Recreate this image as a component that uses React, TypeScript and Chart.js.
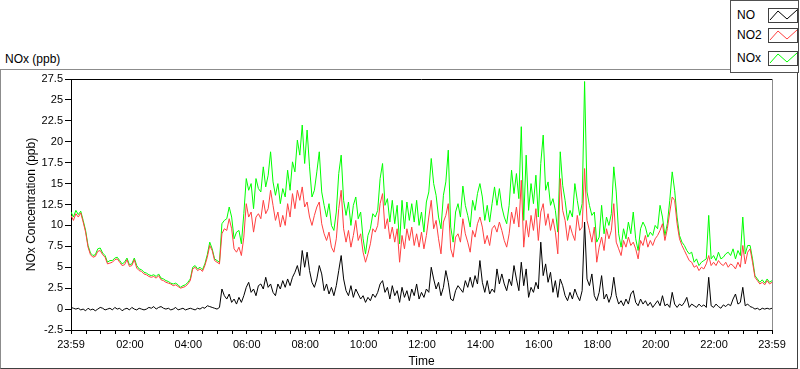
import React, { useEffect, useRef } from "react";
import { Chart, registerables } from "chart.js";

Chart.register(...registerables);

// minutes after 23:59 for each sample (5-minute spacing)
const STEP_MINUTES = 5;

const NO = [
  0.2, 0.1, 0.0, 0.1, -0.1, 0.0, -0.2, 0.1, -0.1, 0.0,
  -0.2, 0.0, 0.2, 0.1, -0.1, 0.0, 0.1, -0.1, 0.2, 0.0,
  0.1, -0.2, 0.0, 0.1, -0.1, 0.2, 0.0, -0.1, 0.1, 0.0,
  -0.1, 0.0, 0.2, 0.1, 0.3, 0.0, 0.2, 0.3, 0.1, 0.0,
  0.1, -0.1, 0.0, 0.2, -0.1, 0.0, 0.1, -0.1, 0.0, 0.1,
  0.0, -0.1, 0.1, 0.0, 0.2, 0.1, 0.4, 0.3, 0.2, 0.1,
  0.0, 0.2, 2.4, 1.6, 1.2, 1.8, 0.8, 1.2, 0.6, 1.4,
  0.8, 1.6, 2.6, 3.2, 2.0, 2.4, 1.6, 2.8, 3.0, 2.4,
  3.8, 2.6, 3.0, 2.0, 1.6, 3.0, 2.4, 3.4, 2.6, 3.6,
  2.8, 3.8, 4.4, 5.2, 4.0, 7.0, 5.0, 6.8, 4.6, 3.2,
  2.6, 3.6, 5.2, 4.2, 2.2, 3.0, 1.8, 2.6, 1.6, 2.8,
  4.6, 6.4, 3.6, 2.2, 1.6, 2.8, 1.4, 2.4, 1.8, 1.2,
  1.6, 0.8, 1.4, 1.0, 1.8, 1.4, 2.0, 3.0, 3.4, 2.0,
  2.6, 1.2, 2.8, 1.6, 2.2, 0.8, 2.6, 1.4, 2.2, 1.0,
  2.4, 1.6, 3.0, 1.2, 2.0, 1.4, 2.4, 2.0, 5.0, 3.6,
  2.4, 3.2, 1.6, 2.6, 4.6, 3.2, 1.2, 1.0, 2.2, 2.8,
  2.4, 2.0, 3.4, 2.6, 3.8, 2.6, 4.0, 3.0, 5.8, 3.2,
  2.0, 3.4, 1.8, 2.4, 2.0, 4.8, 3.0, 4.2, 3.0, 2.2,
  3.6, 2.8, 5.2, 3.6, 2.2, 5.6, 2.8, 4.8, 1.4, 2.6,
  2.0, 3.2, 2.4, 8.0, 4.0, 5.4, 3.2, 4.4, 2.0, 3.4,
  1.4, 3.6, 2.8, 1.6, 1.0, 2.0, 1.2, 2.4, 1.6, 1.0,
  2.2, 10.4, 3.6, 2.8, 4.2, 1.6, 1.0, 2.0, 4.0, 1.2,
  1.8, 0.8, 1.6, 3.8, 1.6, 0.6, 1.0, 0.4, 1.2, 0.6,
  1.8, 2.2, 0.8, 0.4, 1.2, 0.6, 1.0, 0.4, 0.8, 0.2,
  0.6, 1.0, 0.4, 1.6, 0.4, 0.6, 0.2, 2.0, 0.6, 0.2,
  0.6, 0.4, 0.8, 1.4, 0.2, 0.6, 0.4, 0.2, 0.6, 0.3,
  0.5, 0.2, 3.8, 0.4, 0.2, 0.6, 0.3, 0.1, 0.5, 0.3,
  0.6, 0.4, 1.2, 1.8, 0.6, 0.8, 2.6, 0.4, 0.6, 0.3,
  0.2, 0.0, 0.1, -0.1, 0.1, 0.0, 0.1, 0.0, 0.1,
];

const NO2 = [
  11.2, 10.6, 11.4, 11.0, 11.5, 10.4, 9.2, 7.4, 6.5, 6.2,
  6.3, 6.9, 7.0, 6.5, 6.2, 5.4, 5.5, 5.6, 5.9, 6.0,
  5.6, 5.2, 5.3, 5.9, 5.1, 5.2, 5.9, 4.9, 4.6, 4.5,
  4.2, 4.1, 3.9, 3.8, 3.9, 3.7, 4.0, 3.5, 3.4, 3.2,
  3.1, 3.0, 2.8, 2.9, 2.7, 2.5, 2.6, 2.7, 3.0, 3.4,
  4.8, 5.0, 4.6, 4.8, 4.5, 5.2, 6.2, 7.6, 7.0, 5.8,
  5.6, 5.4, 9.0, 9.6, 9.4, 10.8, 9.6, 7.2, 6.8, 7.4,
  6.4, 8.6, 12.6, 11.0, 11.6, 9.2, 11.0, 11.4, 10.8, 13.0,
  11.4, 12.0, 14.2, 12.4, 10.6, 11.6, 9.8, 11.2, 10.0, 12.6,
  11.0, 13.8, 12.0, 14.2, 13.0, 14.6, 12.2, 12.8, 11.0, 10.0,
  11.2, 12.2, 12.8, 10.2, 9.0, 8.2, 9.2, 7.4, 6.8, 8.4,
  12.0, 14.2, 9.6, 8.0, 9.4, 7.4, 8.8, 10.6, 8.2, 9.0,
  6.8, 5.6, 6.6, 7.8, 9.6, 9.2, 10.0, 12.6, 13.8, 9.6,
  10.8, 8.4, 9.8, 8.0, 9.6, 5.6, 8.8, 7.2, 9.6, 8.2,
  9.8, 7.6, 9.0, 7.4, 9.2, 7.2, 8.8, 11.0, 13.0, 9.6,
  10.6, 8.4, 6.6, 10.4, 11.2, 12.6, 7.2, 6.2, 8.6, 9.0,
  8.0, 10.8, 9.0, 8.0, 6.8, 9.4, 8.6, 10.2, 11.0, 9.8,
  7.8, 8.8, 7.6, 9.6, 10.0, 9.2, 10.4, 9.4, 8.2, 7.4,
  9.0, 11.6, 10.2, 12.2, 9.8, 15.4, 7.4, 10.6, 8.6, 11.2,
  9.4, 12.0, 8.2, 11.6, 12.6, 10.0, 11.4, 9.4, 10.8, 9.2,
  6.6, 15.6, 11.8, 10.6, 8.2, 10.0, 9.0, 8.2, 11.2, 9.4,
  9.8, 16.8, 10.6, 9.4, 8.0, 9.8, 5.6, 7.4, 8.6, 7.0,
  9.6, 8.4, 9.4, 12.6, 8.0, 7.2, 6.4, 8.2, 7.4, 8.6,
  7.6, 8.0, 7.2, 6.0, 8.2, 7.6, 8.8, 7.4, 8.2, 7.6,
  8.4, 8.8, 9.4, 10.2, 8.2, 9.6, 11.6, 13.4, 13.0, 10.2,
  8.4, 7.6, 7.0, 6.4, 5.8, 5.6, 5.0, 5.2, 4.6, 5.0,
  4.8, 5.4, 6.4, 5.2, 5.6, 5.2, 5.8, 5.4, 5.2, 5.6,
  5.0, 5.4, 5.2, 4.8, 5.6, 5.0, 7.6, 5.4, 6.8, 7.2,
  5.6, 3.8, 3.4, 3.0, 3.2, 2.9, 3.4, 3.0, 3.2,
];

const NOX = [
  11.6, 11.0, 11.8, 11.3, 11.7, 10.6, 9.4, 7.6, 6.7, 6.4,
  6.5, 7.2, 7.3, 6.7, 6.4, 5.6, 5.8, 5.8, 6.1, 6.2,
  5.8, 5.4, 5.6, 6.1, 5.3, 5.4, 6.1, 5.2, 4.8, 4.7,
  4.4, 4.3, 4.1, 4.0, 4.1, 3.9, 4.2, 3.7, 3.6, 3.4,
  3.3, 3.1, 3.0, 3.1, 2.9, 2.6, 2.8, 2.9, 3.2, 3.6,
  5.0, 5.2, 4.8, 5.0, 4.7, 5.4, 6.5, 8.0, 7.2, 6.0,
  5.8, 5.6, 10.2, 10.6, 10.8, 12.2, 11.0, 8.4, 9.2, 9.4,
  7.8, 11.4, 15.6, 14.2, 15.0, 12.0, 15.6, 14.4, 14.0, 17.0,
  14.6, 16.0, 18.8, 15.2, 13.6, 15.0, 12.6, 14.4, 13.4, 16.6,
  14.2, 17.6, 16.4, 20.2, 18.4, 22.0, 17.4, 21.4, 17.0, 13.4,
  14.2, 16.4, 18.8, 14.0, 12.4, 11.0, 12.6, 10.0, 9.4, 11.6,
  16.2, 18.4, 13.0, 11.2, 12.8, 10.0, 12.4, 13.4, 10.8, 11.6,
  8.4, 6.6, 8.8, 9.6, 11.4, 11.0, 11.8, 15.6, 17.4, 12.4,
  13.2, 10.4, 13.0, 10.2, 12.4, 7.8, 13.0, 9.6, 12.8, 10.6,
  12.6, 10.4, 13.0, 10.0, 11.6, 9.2, 12.8, 14.0, 18.0, 15.0,
  13.6, 11.0, 9.6, 13.6, 15.2, 19.0, 9.8, 8.0, 11.6, 12.6,
  11.0, 14.7, 12.4, 11.2, 9.8, 13.0, 11.8, 13.8, 15.0, 13.4,
  10.6, 12.4, 10.4, 12.6, 14.6, 12.4, 14.4, 12.2, 11.0, 10.2,
  12.4, 16.6, 13.8, 16.2, 13.2, 21.8, 10.6, 18.4, 11.8, 15.0,
  12.6, 16.0, 11.0, 17.4, 20.8, 14.2, 15.2, 12.4, 13.2, 11.8,
  9.2, 18.8, 14.8, 13.0, 10.6, 11.8, 11.0, 15.0, 13.0, 11.2,
  12.6, 27.2, 14.0, 12.4, 11.2, 11.6, 8.0, 8.6, 12.4, 9.0,
  11.0, 10.0, 11.4, 17.0, 14.0, 9.0, 7.4, 9.6, 8.4, 10.4,
  9.0, 11.6, 8.4, 7.0, 9.6, 10.4, 9.8, 8.6, 9.2, 8.8,
  10.0, 9.6, 12.4, 11.0, 8.8, 10.2, 13.0, 16.4, 14.2, 11.0,
  8.8, 8.0, 7.6, 7.0, 6.6, 6.8, 5.6, 6.0, 5.2, 5.6,
  5.8, 6.0, 11.2, 6.0, 6.4, 5.8, 6.8, 6.0, 6.2, 6.6,
  6.8, 6.4, 7.2, 6.0, 7.0, 6.4, 11.0, 6.6, 7.6, 7.6,
  6.0, 4.0, 3.6, 3.2, 3.5, 3.1, 3.6, 3.2, 3.4,
];

// x-axis: minutes after 23:59
const X_MAJOR_VALUES = [0, 121, 241, 361, 481, 601, 721, 841, 961, 1081, 1201, 1321, 1440];
const X_MAJOR_LABELS = ["23:59", "02:00", "04:00", "06:00", "08:00", "10:00", "12:00", "14:00", "16:00", "18:00", "20:00", "22:00", "23:59"];
const X_MINOR_STEP = 30;

const Y_MIN = -2.5;
const Y_MAX = 27.5;
const Y_STEP = 2.5;

const SERIES_NAMES = ["NO", "NO2", "NOx"];
const SERIES_COLORS = ["#000000", "#ff4040", "#00ff00"];

const FONT = "'Liberation Sans', Arial, sans-serif";

function buildXTicks() {
  const vals = new Set<number>(X_MAJOR_VALUES);
  for (let v = 1 + X_MINOR_STEP; v < 1440; v += X_MINOR_STEP) vals.add(v);
  return Array.from(vals).sort((a, b) => a - b);
}

const framePlugin = {
  id: "plotFrame",
  afterDraw(chart: any) {
    const { ctx, chartArea } = chart;
    const { left, right, top, bottom } = chartArea;
    ctx.save();
    ctx.lineWidth = 1;
    ctx.strokeStyle = "#000";
    ctx.beginPath();
    ctx.moveTo(left, Math.round(top) + 0.5);
    ctx.lineTo(right, Math.round(top) + 0.5);
    ctx.stroke();
    ctx.strokeStyle = "#8c8c8c";
    ctx.beginPath();
    ctx.moveTo(Math.round(right) + 0.5, top);
    ctx.lineTo(Math.round(right) + 0.5, bottom);
    ctx.stroke();
    ctx.restore();
  },
};

function LegendIcon({ color }: { color: string }) {
  return (
    <svg width="29" height="13" style={{ display: "block" }}>
      <polyline points="1,11 9,2 18,10 28,1" fill="none" stroke={color} strokeWidth="1" />
    </svg>
  );
}

export default function App() {
  const canvasRef = useRef<HTMLCanvasElement | null>(null);

  useEffect(() => {
    if (!canvasRef.current) return;
    const times = NO.map((_, i) => i * STEP_MINUTES);
    const seriesValues = [NO, NO2, NOX];
    const xTicks = buildXTicks();

    const chart = new Chart(canvasRef.current, {
      type: "line",
      data: {
        datasets: seriesValues.map((vals, k) => ({
          label: SERIES_NAMES[k],
          data: vals.map((v, i) => ({ x: times[i], y: v })),
          borderColor: SERIES_COLORS[k],
          backgroundColor: SERIES_COLORS[k],
          borderWidth: 1,
          pointRadius: 0,
          tension: 0,
          fill: false,
        })),
      },
      options: {
        animation: false,
        responsive: false,
        devicePixelRatio: 1,
        layout: { padding: { left: 0, right: 28, top: 79, bottom: 0 } },
        plugins: { legend: { display: false }, tooltip: { enabled: false }, title: { display: false } },
        scales: {
          x: {
            type: "linear",
            min: 0,
            max: 1440,
            afterBuildTicks: (scale: any) => {
              scale.ticks = xTicks.map((v) => ({ value: v }));
            },
            afterFit: (scale: any) => {
              scale.height = 39;
            },
            ticks: {
              autoSkip: false,
              maxRotation: 0,
              minRotation: 0,
              padding: 4,
              color: "#000",
              font: { family: FONT, size: 11 },
              callback: (value: any) => {
                const idx = X_MAJOR_VALUES.indexOf(Number(value));
                return idx >= 0 ? X_MAJOR_LABELS[idx] : "";
              },
            },
            grid: { display: true, drawOnChartArea: false, drawTicks: true, tickLength: 4, tickColor: "#000" },
            border: { display: true, color: "#000" },
            title: { display: true, text: "Time", color: "#000", font: { family: FONT, size: 12 }, padding: { top: 0, bottom: 0 } },
          },
          y: {
            type: "linear",
            min: Y_MIN,
            max: Y_MAX,
            afterFit: (scale: any) => {
              scale.width = 71;
            },
            ticks: {
              stepSize: Y_STEP,
              padding: 2,
              color: "#000",
              font: { family: FONT, size: 11 },
              callback: (value: any) => String(Math.round(Number(value) * 10) / 10),
            },
            grid: { display: true, drawOnChartArea: false, drawTicks: true, tickLength: 6, tickColor: "#000" },
            border: { display: true, color: "#000" },
            title: {
              display: true,
              text: "NOx Concentration (ppb)",
              color: "#000",
              font: { family: FONT, size: 12 },
              padding: { top: 24, bottom: 0 },
            },
          },
        },
      },
      plugins: [framePlugin],
    } as any);

    return () => chart.destroy();
  }, []);

  const legendTops = [7, 27, 50];

  return (
    <div style={{ position: "absolute", left: 0, top: 0, width: 800, height: 369, background: "#fff", fontFamily: FONT, overflow: "hidden" }}>
      <div
        style={{
          position: "absolute",
          left: 0,
          top: 69,
          width: 798,
          height: 300,
          boxSizing: "border-box",
          borderTop: "1px solid #8c8c8c",
          borderLeft: "1px solid #8c8c8c",
          borderRight: "1px solid #404040",
          borderBottom: "1px solid #404040",
        }}
      />
      <div style={{ position: "absolute", left: 5, top: 51, fontSize: 12, lineHeight: "16px", color: "#000" }}>NOx (ppb)</div>
      <canvas ref={canvasRef} width={800} height={369} style={{ position: "absolute", left: 0, top: 0, width: 800, height: 369 }} />
      <div
        style={{
          position: "absolute",
          left: 730,
          top: 0,
          width: 69,
          height: 73,
          boxSizing: "border-box",
          border: "1px solid #505050",
          background: "#fff",
          zIndex: 2,
        }}
      >
        {SERIES_NAMES.map((name, k) => (
          <React.Fragment key={name}>
            <div style={{ position: "absolute", left: 6, top: legendTops[k] - 1, fontSize: 12, lineHeight: "16px", color: "#000" }}>{name}</div>
            <div
              style={{
                position: "absolute",
                left: 37,
                top: legendTops[k],
                width: 30,
                height: 15,
                boxSizing: "border-box",
                border: "1px solid #404040",
                background: "#fff",
              }}
            >
              <LegendIcon color={SERIES_COLORS[k]} />
            </div>
          </React.Fragment>
        ))}
      </div>
    </div>
  );
}
